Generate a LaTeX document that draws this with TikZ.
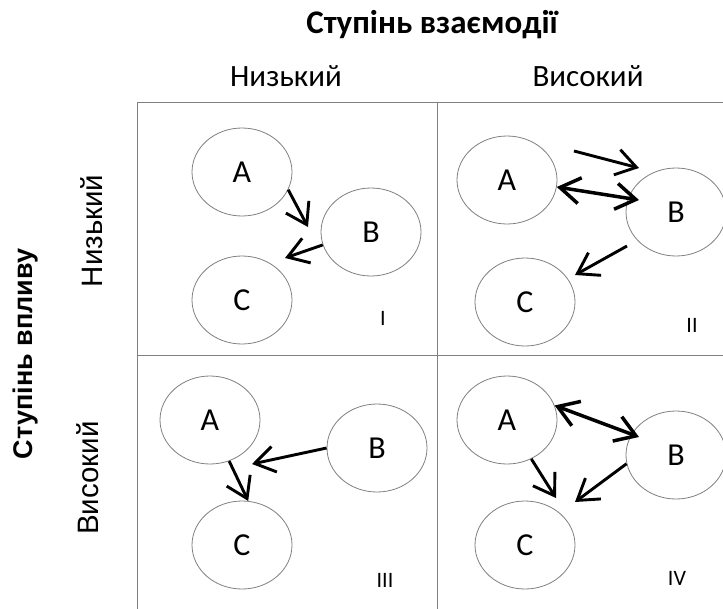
\documentclass[tikz,border=0pt]{standalone}
\usepackage{fontspec}
\setmainfont{Carlito}
\newfontfamily\sidefont{Liberation Sans}
\usetikzlibrary{arrows.meta,shapes.geometric}
\newcommand{\barb}{Straight Barb[length=20pt,width=26pt]}

\begin{document}
\begin{tikzpicture}[x=1pt,y=-1pt]
    \tikzstyle{grid}=[draw=gray, line width=1pt]
    \tikzstyle{actor}=[ellipse, draw=gray, line width=0.8pt, inner sep=0pt,
        minimum width=100pt, minimum height=88pt, font=\fontsize{32}{38}\selectfont]
    \tikzstyle{link}=[line width=2.9pt, -{\barb}]
    \tikzstyle{dlink}=[line width=3.5pt, {\barb}-{\barb}]
    \tikzstyle{num}=[font=\fontsize{22}{26}\selectfont]
    \tikzstyle{hdr}=[anchor=base, font=\fontsize{31}{36}\selectfont]
    \tikzstyle{side}=[rotate=90, font=\sidefont\fontsize{29.5}{34}\selectfont]
    \useasboundingbox (0,0) rectangle (723,608);
    \begin{scope}
        \clip (0,0) rectangle (723,608);
        \draw[grid] (137,102) rectangle (737,614);
        \draw[grid] (437,102) -- (437,614);
        \draw[grid] (137,355) -- (737,355);
    \end{scope}
    \node[anchor=base, font=\bfseries\fontsize{33}{38}\selectfont] (title) at (432,33) {Ступінь взаємодії};
    \node[hdr] (lowtop) at (286,86) {Низький};
    \node[hdr] (hightop) at (588,86) {Високий};
    \node[rotate=90, font=\sidefont\bfseries\fontsize{27}{32}\selectfont] (sidetitle) at (26,354) {Ступінь впливу};
    \node[side] (lowside) at (92,231) {Низький};
    \node[side] (highside) at (88,478) {Високий};
    % I
    \node[actor] (a1) at (242,172) {A};
    \node[actor] (b1) at (371,232) {B};
    \node[actor] (c1) at (242,300) {C};
    \node[num] (n1) at (383,318) {I};
    \coordinate (t1ab) at (308,227);
    \coordinate (t1bc) at (285,258);
    \draw[link] (a1.-21) -- (t1ab);
    \draw[link] (b1.-165) -- (t1bc);
    % II
    \node[actor] (a2) at (507,180) {A};
    \node[actor] (b2) at (676,212) {B};
    \node[actor] (c2) at (525,302) {C};
    \node[num] (n2) at (692,325) {II};
    \coordinate (s2ab) at (574,151);
    \coordinate (e2ab) at (639,168);
    \coordinate (t2ab) at (639,200);
    \coordinate (s2bc) at (627,246);
    \coordinate (t2bc) at (575,275);
    \draw[link] (s2ab) -- (e2ab);
    \draw[dlink] (a2.-8) -- (t2ab);
    \draw[link] (s2bc) -- (t2bc);
    % III
    \node[actor] (a3) at (210,420) {A};
    \node[actor] (b3) at (377,448) {B};
    \node[actor] (c3) at (242,545) {C};
    \node[num] (n3) at (385,580) {III};
    \coordinate (t3b) at (252,464);
    \draw[link] (b3.west) -- (t3b);
    \draw[link] (a3.-65) -- (c3.82);
    % IV
    \node[actor] (a4) at (507,420) {A};
    \node[actor] (b4) at (676,455) {B};
    \node[actor] (c4) at (525,545) {C};
    \node[num] (n4) at (677,578) {IV};
    \coordinate (t4ab) at (639,437);
    \coordinate (t4ac) at (556,498);
    \coordinate (t4bc) at (575,502);
    \draw[dlink] (a4.17) -- (t4ab);
    \draw[link] (a4.-58) -- (t4ac);
    \draw[link] (b4.-170) -- (t4bc);
\end{tikzpicture}
\end{document}
